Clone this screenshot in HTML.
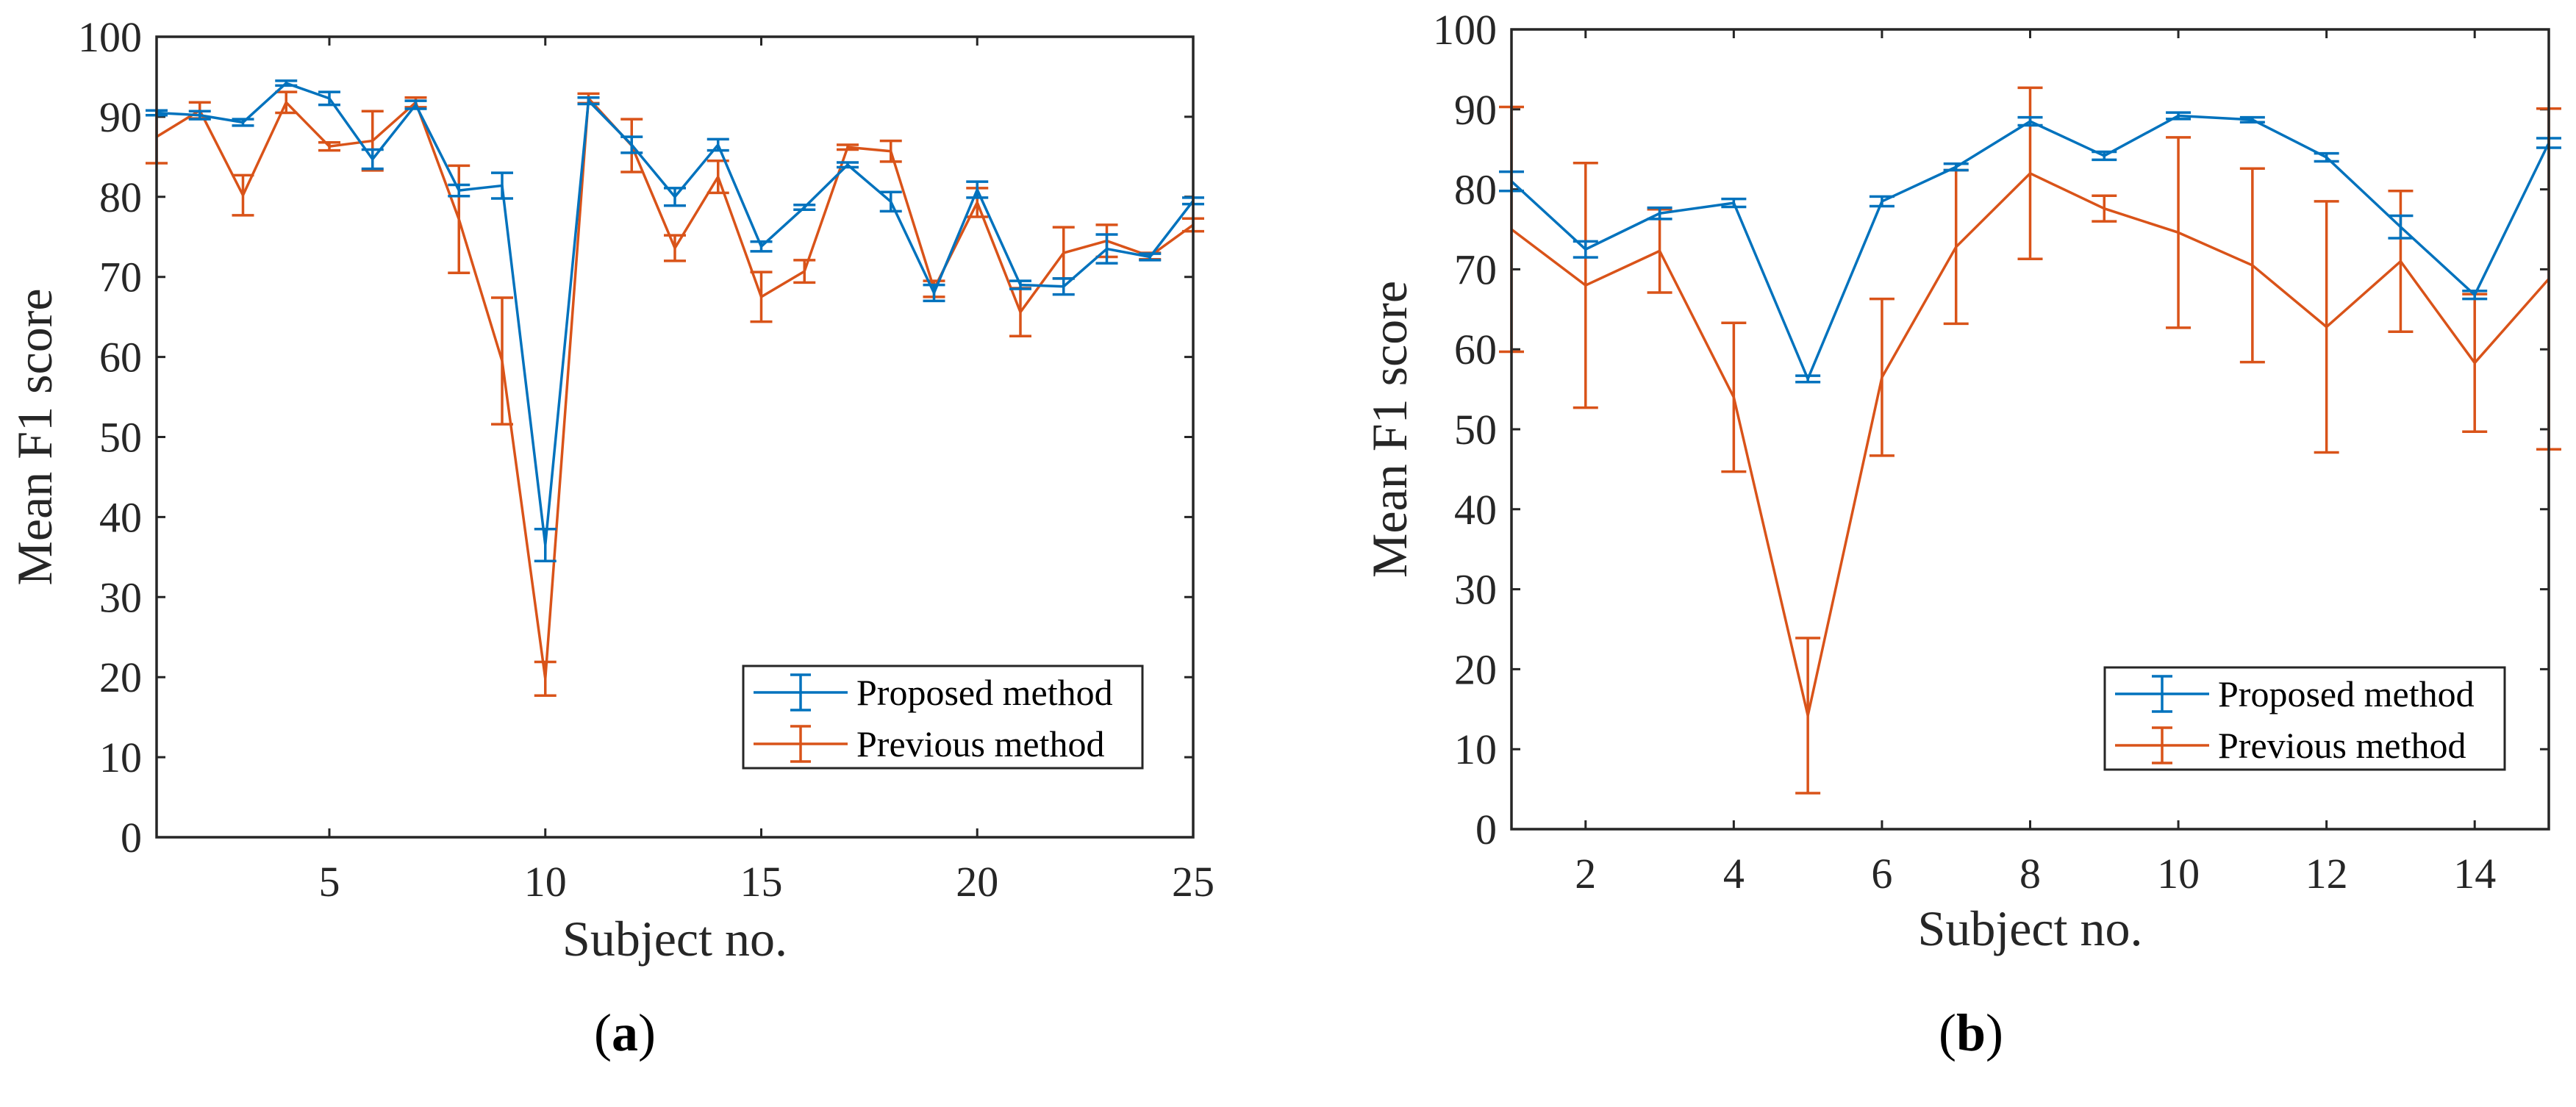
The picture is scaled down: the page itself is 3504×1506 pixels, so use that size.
<!DOCTYPE html>
<html><head><meta charset="utf-8"><style>
html,body{margin:0;padding:0;background:#fff;}
svg{display:block;font-family:"Liberation Serif",serif;}
</style></head><body>
<svg id="fig" width="3504" height="1506" viewBox="0 0 3504 1506" xmlns="http://www.w3.org/2000/svg"></svg>
<script>
// Panel (a) data
const subjectsA = [1,2,3,4,5,6,7,8,9,10,11,12,13,14,15,16,17,18,19,20,21,22,23,24,25];
const proposedA = [90.5,90.2,89.3,94.2,92.3,84.7,91.5,80.8,81.4,36.5,92,86.5,80,86.5,73.8,78.7,84,79.4,68,80.9,69,68.8,73.5,72.5,79.5];
const proposedErrA = [0.3,0.5,0.4,0.3,0.8,1.2,0.5,0.7,1.6,2,0.4,1,1.1,0.7,0.6,0.3,0.3,1.2,1,1,0.5,1,1.8,0.4,0.4];
const previousA = [87.5,90.8,80.2,91.8,86.3,87,91.8,77.2,59.5,19.8,92.3,86.4,73.6,82.5,67.5,70.7,86.2,85.7,68.5,79.3,65.6,73,74.5,72.6,76.5];
const previousErrA = [3.3,1,2.5,1.3,0.5,3.7,0.6,6.7,7.9,2.1,0.6,3.3,1.6,2,3.1,1.4,0.3,1.3,1,1.8,3,3.2,2,0.4,0.8];
const xTicksA = [5,10,15,20,25];
// Panel (b) data
const subjectsB = [1,2,3,4,5,6,7,8,9,10,11,12,13,14,15];
const proposedB = [81,72.5,77,78.3,56.3,78.5,82.8,88.5,84.2,89.2,88.7,84,75.3,66.8,85.8];
const proposedErrB = [1.2,1,0.7,0.5,0.4,0.6,0.4,0.5,0.5,0.4,0.3,0.5,1.4,0.5,0.6];
const previousB = [75,68,72.3,54,14.2,56.5,72.8,82,77.6,74.6,70.5,62.8,71,58.3,68.8];
const previousErrB = [15.3,15.3,5.2,9.3,9.7,9.8,9.6,10.7,1.6,11.9,12.1,15.7,8.8,8.6,21.3];
const xTicksB = [2,4,6,8,10,12,14];
const yTicks = [0,10,20,30,40,50,60,70,80,90,100];

const NS="http://www.w3.org/2000/svg";
const svg=document.getElementById('fig');
function mk(tag,attrs,parent){const e=document.createElementNS(NS,tag);for(const k in attrs)e.setAttribute(k,attrs[k]);(parent||svg).appendChild(e);return e;}
const BLUE="#0072BD", ORANGE="#D95319", INK="#262626";

function panel(P){
  const g=mk('g',{});
  
  
  const sx=v=>P.x0+(v-P.xmin)/(P.xmax-P.xmin)*(P.x1-P.x0);
  const sy=v=>P.y1-(v/100)*(P.y1-P.y0);
  // ticks
  yTicks.forEach(t=>{
    const y=sy(t);
    const tk=mk('path',{d:`M${P.x0},${y}h12M${P.x1},${y}h-12`,stroke:INK,'stroke-width':3,fill:'none'},g);
    
    
    const lb=mk('text',{x:P.x0-20,y:y+20,'text-anchor':'end','font-size':58,fill:INK},g);
    lb.textContent=t;
    
    
  });
  P.xt.forEach(t=>{
    const x=sx(t);
    const tk=mk('path',{d:`M${x},${P.y1}v-12M${x},${P.y0}v12`,stroke:INK,'stroke-width':3,fill:'none'},g);
    
    
    const lb=mk('text',{x:x,y:P.y1+80,'text-anchor':'middle','font-size':58,fill:INK},g);
    lb.textContent=t;
    
    
  });
  // series
  function series(xs,ys,es,col,nm){
    const sg=mk('g',{},g);
    
    
    const pts=xs.map((x,i)=>`${sx(x)},${sy(ys[i])}`).join(' ');
    const ln=mk('polyline',{points:pts,fill:'none',stroke:col,'stroke-width':3.5,'stroke-linejoin':'round'},sg);
    
    
    xs.forEach((x,i)=>{
      const X=sx(x),a=sy(ys[i]+es[i]),b=sy(ys[i]-es[i]),c=P.cap;
      const eb=mk('path',{d:`M${X},${a}V${b}M${X-c},${a}h${2*c}M${X-c},${b}h${2*c}`,stroke:col,'stroke-width':3.5,fill:'none'},sg);
      
      
    });
  }
  series(P.xs,P.prev,P.prevE,ORANGE,'previous-method-series');
  series(P.xs,P.prop,P.propE,BLUE,'proposed-method-series');
  // frame
  const fr=mk('rect',{x:P.x0,y:P.y0,width:P.x1-P.x0,height:P.y1-P.y0,fill:'none',stroke:INK,'stroke-width':3.5},g);
  
  
  // titles
  const xt=mk('text',{x:(P.x0+P.x1)/2,y:P.xty,'text-anchor':'middle','font-size':68,fill:INK},g);
  xt.textContent='Subject no.';
  
  
  const yt=mk('text',{x:0,y:0,'text-anchor':'middle','font-size':68,fill:INK,transform:`translate(${P.ytx},${(P.y0+P.y1)/2}) rotate(-90)`},g);
  yt.textContent='Mean F1 score';
  
  
  // legend
  const L=P.leg;
  const lg=mk('g',{},g);
  
  
  mk('rect',{x:L.x,y:L.y,width:L.w,height:L.h,fill:'#fff',stroke:INK,'stroke-width':3},lg);
  [[BLUE,'Proposed method',L.y+36],[ORANGE,'Previous method',L.y+106]].forEach(([c,t,y])=>{
    const e=mk('g',{},lg);
    
    
    const lx=L.x+14, mx=L.x+78;
    mk('path',{d:`M${lx},${y}h128M${mx},${y-24}v48M${mx-14},${y-24}h28M${mx-14},${y+24}h28`,stroke:c,'stroke-width':3.5,fill:'none'},e);
    const tx=mk('text',{x:L.x+154,y:y+17,'font-size':50,fill:'#000'},e);
    tx.textContent=t;
  });
  const cap=mk('text',{x:P.capx,y:1429,'text-anchor':'middle','font-size':72,fill:'#000'},g);
  cap.innerHTML='(<tspan font-weight="bold">'+P.label+'</tspan>)';
  
  
}

panel({name:'panel-a',x0:213,x1:1623,y0:50,y1:1139,xmin:1,xmax:25,xt:xTicksA,xs:subjectsA,prop:proposedA,propE:proposedErrA,prev:previousA,prevE:previousErrA,cap:15,xty:1300,ytx:70,leg:{x:1011,y:906,w:543,h:139},capx:850,label:'a'});
panel({name:'panel-b',x0:2056,x1:3467,y0:40,y1:1128,xmin:1,xmax:15,xt:xTicksB,xs:subjectsB,prop:proposedB,propE:proposedErrB,prev:previousB,prevE:previousErrB,cap:17,xty:1286,ytx:1913,leg:{x:2863,y:908,w:544,h:139},capx:2681,label:'b'});
</script>
</body></html>
